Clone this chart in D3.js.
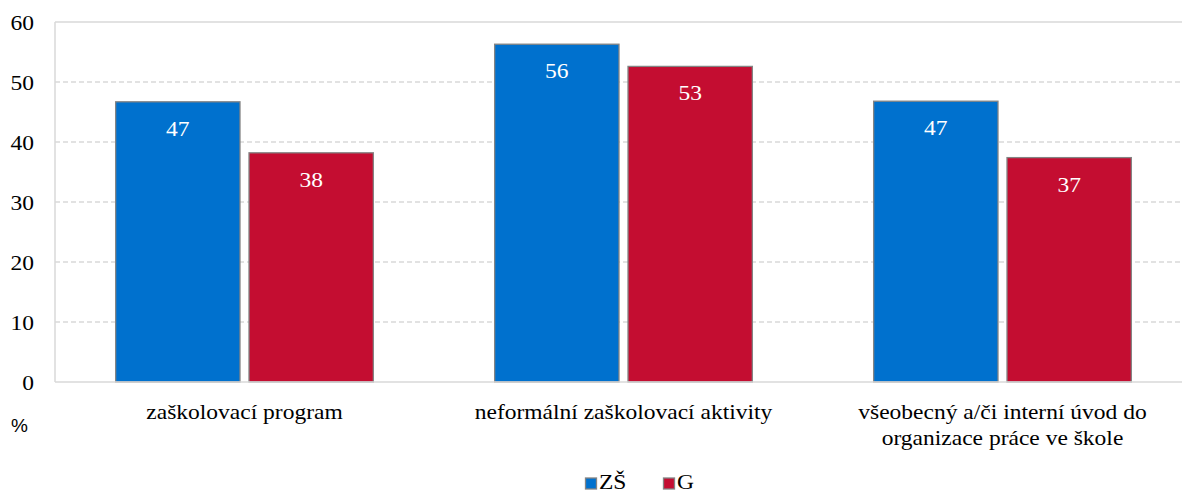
<!DOCTYPE html>
<html>
<head>
<meta charset="utf-8">
<script src="https://cdn.jsdelivr.net/npm/d3@7/dist/d3.min.js"></script>
<style>
  html, body { margin: 0; padding: 0; background: #fff; }
  svg { display: block; }
</style>
</head>
<body>
<svg id="chart" width="1182" height="493"></svg>
<script>
const categories = [
  ["zaškolovací program"],
  ["neformální zaškolovací aktivity"],
  ["všeobecný a/či interní úvod do", "organizace práce ve škole"]
];
const seriesNames = ["ZŠ", "G"];
const valuesZS = [46.7, 56.3, 46.8];
const valuesG = [38.2, 52.6, 37.4];
const yTicks = [0, 10, 20, 30, 40, 50, 60];
const unitLabel = "%";

(function () {
const colors = { "ZŠ": "#0071CE", "G": "#C40D31" };
const SERIF = "Liberation Serif";
const FS = 21;
const SX = 1.12;

const svg = d3.select("#chart");
const pLeft = 55, pRight = 1192, pTop = 22, pBottom = 382;

function stext(parent, x, y, str, anchor, fill) {
  return parent.append("text")
    .attr("transform", `translate(${x},${y}) scale(${SX},1)`)
    .attr("text-anchor", anchor || "start")
    .attr("font-family", SERIF).attr("font-size", FS)
    .attr("fill", fill || "#000")
    .text(str);
}

const catKeys = categories.map((c, i) => i);
const x0 = d3.scaleBand().domain(catKeys).range([pLeft, pRight]).paddingInner(0.32).paddingOuter(0.16);
const x1 = d3.scaleBand().domain(seriesNames).range([0, x0.bandwidth()]).paddingInner(0.0675);
const y = d3.scaleLinear().domain([0, 60]).range([pBottom, pTop]);

// gridlines
svg.append("g").selectAll("line").data(yTicks.filter(t => t > 0 && t < 60)).join("line")
  .attr("x1", pLeft).attr("x2", 1182)
  .attr("y1", d => y(d)).attr("y2", d => y(d))
  .attr("stroke", "#d9d9d9").attr("stroke-width", 1.3).attr("stroke-dasharray", "5,3");
svg.append("line").attr("x1", pLeft).attr("x2", 1182).attr("y1", y(60)).attr("y2", y(60))
  .attr("stroke", "#d9d9d9").attr("stroke-width", 1.3);

// bars
const data = [];
catKeys.forEach(i => {
  data.push({ cat: i, s: "ZŠ", v: valuesZS[i] });
  data.push({ cat: i, s: "G", v: valuesG[i] });
});
svg.append("g").selectAll("rect").data(data).join("rect")
  .attr("x", d => x0(d.cat) + x1(d.s))
  .attr("width", x1.bandwidth())
  .attr("y", d => y(d.v))
  .attr("height", d => y(0) - y(d.v))
  .attr("fill", d => colors[d.s])
  .attr("stroke", "#848484").attr("stroke-width", 1.3);

// value labels
const vl = svg.append("g");
data.forEach(d => {
  stext(vl, x0(d.cat) + x1(d.s) + x1.bandwidth() / 2, y(d.v) + 34, String(Math.round(d.v)), "middle", "#fff");
});

// axis lines
svg.append("line").attr("x1", pLeft).attr("x2", pLeft).attr("y1", pTop).attr("y2", pBottom)
  .attr("stroke", "#d9d9d9").attr("stroke-width", 1.5);
svg.append("line").attr("x1", pLeft).attr("x2", 1182).attr("y1", pBottom).attr("y2", pBottom)
  .attr("stroke", "#d9d9d9").attr("stroke-width", 1.5);

// y axis
const yAxis = svg.append("g").attr("transform", `translate(${pLeft - 21},0)`)
  .call(d3.axisLeft(y).tickValues(yTicks).tickSize(0).tickPadding(0));
yAxis.select(".domain").remove();
yAxis.attr("font-family", SERIF).attr("font-size", FS);
yAxis.selectAll("text")
  .attr("fill", "#000")
  .attr("x", 0)
  .attr("dy", "0.35em")
  .attr("transform", `scale(${SX},1)`);

// category labels
const catG = svg.append("g");
catKeys.forEach(i => {
  categories[i].forEach((line, j) => {
    stext(catG, x0(i) + x0.bandwidth() / 2, 419 + j * 26, line, "middle");
  });
});

// unit label
svg.append("text").attr("x", 11).attr("y", 432)
  .attr("font-family", "Liberation Sans").attr("font-size", 19)
  .attr("fill", "#000").text(unitLabel);

// legend
const legendItems = [{ s: "ZŠ", x: 585 }, { s: "G", x: 663 }];
const lg = svg.append("g");
legendItems.forEach(it => {
  lg.append("rect").attr("x", it.x + 0.5).attr("y", 478).attr("width", 11).attr("height", 11)
    .attr("fill", colors[it.s]).attr("stroke", "#848484").attr("stroke-width", 1.3);
  stext(lg, it.x + 14, 489, it.s, "start");
});
})();
</script>
</body>
</html>
